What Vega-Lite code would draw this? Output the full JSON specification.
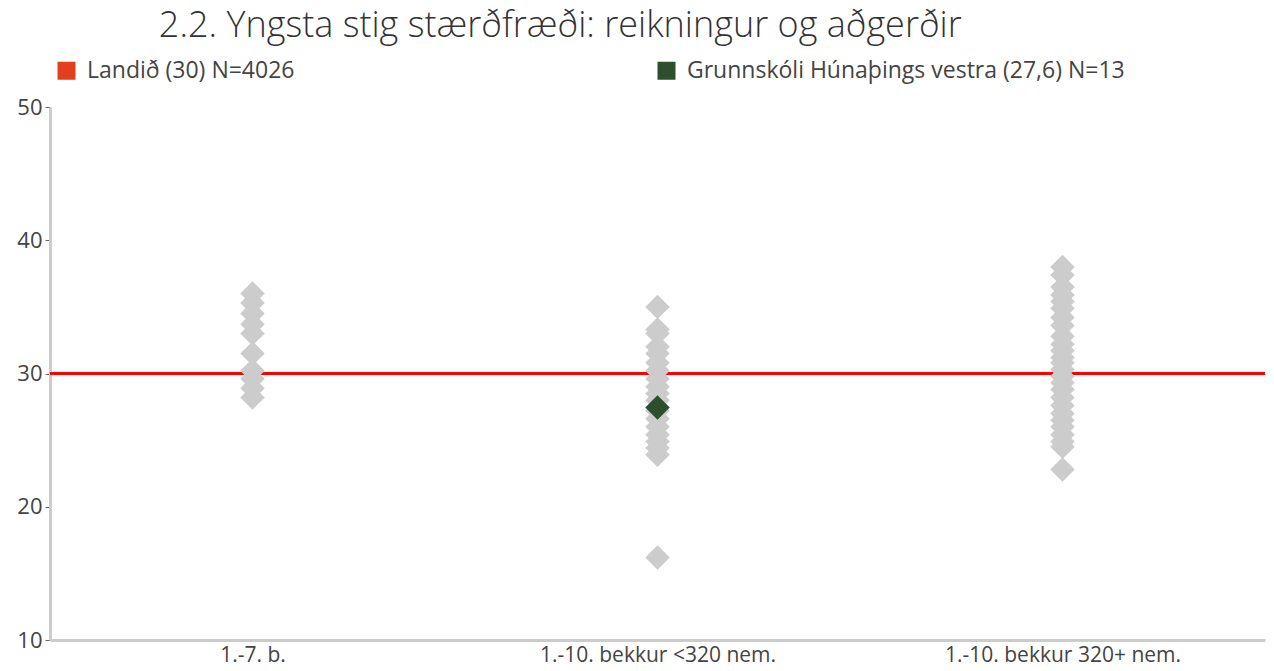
{
  "$schema": "https://vega.github.io/schema/vega-lite/v6.json",
  "autosize": "none",
  "width": 1215,
  "height": 533,
  "padding": {"left": 50, "top": 107, "right": 9, "bottom": 31},
  "background": "white",
  "config": {"view": {"stroke": null}, "font": "Open Sans"},
  "title": {
    "text": "2.2. Yngsta stig stærðfræði: reikningur og aðgerðir",
    "anchor": "start",
    "dx": 142,
    "fontSize": 36,
    "fontWeight": 300,
    "font": "Open Sans",
    "color": "#333333",
    "offset": 14
  },
  "datasets": {
    "pts": [
      {"group": "1.-7. b.", "value": 36.0, "series": "annað"},
      {"group": "1.-7. b.", "value": 35.3, "series": "annað"},
      {"group": "1.-7. b.", "value": 34.5, "series": "annað"},
      {"group": "1.-7. b.", "value": 33.7, "series": "annað"},
      {"group": "1.-7. b.", "value": 33.0, "series": "annað"},
      {"group": "1.-7. b.", "value": 31.5, "series": "annað"},
      {"group": "1.-7. b.", "value": 30.2, "series": "annað"},
      {"group": "1.-7. b.", "value": 29.6, "series": "annað"},
      {"group": "1.-7. b.", "value": 28.9, "series": "annað"},
      {"group": "1.-7. b.", "value": 28.2, "series": "annað"},
      {"group": "1.-10. bekkur <320 nem.", "value": 35.0, "series": "annað"},
      {"group": "1.-10. bekkur <320 nem.", "value": 33.3, "series": "annað"},
      {"group": "1.-10. bekkur <320 nem.", "value": 33.0, "series": "annað"},
      {"group": "1.-10. bekkur <320 nem.", "value": 32.0, "series": "annað"},
      {"group": "1.-10. bekkur <320 nem.", "value": 31.5, "series": "annað"},
      {"group": "1.-10. bekkur <320 nem.", "value": 30.8, "series": "annað"},
      {"group": "1.-10. bekkur <320 nem.", "value": 30.2, "series": "annað"},
      {"group": "1.-10. bekkur <320 nem.", "value": 29.6, "series": "annað"},
      {"group": "1.-10. bekkur <320 nem.", "value": 29.0, "series": "annað"},
      {"group": "1.-10. bekkur <320 nem.", "value": 28.5, "series": "annað"},
      {"group": "1.-10. bekkur <320 nem.", "value": 28.0, "series": "annað"},
      {"group": "1.-10. bekkur <320 nem.", "value": 27.2, "series": "annað"},
      {"group": "1.-10. bekkur <320 nem.", "value": 26.6, "series": "annað"},
      {"group": "1.-10. bekkur <320 nem.", "value": 26.0, "series": "annað"},
      {"group": "1.-10. bekkur <320 nem.", "value": 25.4, "series": "annað"},
      {"group": "1.-10. bekkur <320 nem.", "value": 24.9, "series": "annað"},
      {"group": "1.-10. bekkur <320 nem.", "value": 24.4, "series": "annað"},
      {"group": "1.-10. bekkur <320 nem.", "value": 23.9, "series": "annað"},
      {"group": "1.-10. bekkur <320 nem.", "value": 16.2, "series": "annað"},
      {"group": "1.-10. bekkur 320+ nem.", "value": 38.0, "series": "annað"},
      {"group": "1.-10. bekkur 320+ nem.", "value": 37.4, "series": "annað"},
      {"group": "1.-10. bekkur 320+ nem.", "value": 36.5, "series": "annað"},
      {"group": "1.-10. bekkur 320+ nem.", "value": 35.9, "series": "annað"},
      {"group": "1.-10. bekkur 320+ nem.", "value": 35.4, "series": "annað"},
      {"group": "1.-10. bekkur 320+ nem.", "value": 34.9, "series": "annað"},
      {"group": "1.-10. bekkur 320+ nem.", "value": 34.2, "series": "annað"},
      {"group": "1.-10. bekkur 320+ nem.", "value": 33.6, "series": "annað"},
      {"group": "1.-10. bekkur 320+ nem.", "value": 32.8, "series": "annað"},
      {"group": "1.-10. bekkur 320+ nem.", "value": 32.2, "series": "annað"},
      {"group": "1.-10. bekkur 320+ nem.", "value": 31.7, "series": "annað"},
      {"group": "1.-10. bekkur 320+ nem.", "value": 31.2, "series": "annað"},
      {"group": "1.-10. bekkur 320+ nem.", "value": 30.8, "series": "annað"},
      {"group": "1.-10. bekkur 320+ nem.", "value": 30.3, "series": "annað"},
      {"group": "1.-10. bekkur 320+ nem.", "value": 29.8, "series": "annað"},
      {"group": "1.-10. bekkur 320+ nem.", "value": 29.3, "series": "annað"},
      {"group": "1.-10. bekkur 320+ nem.", "value": 28.8, "series": "annað"},
      {"group": "1.-10. bekkur 320+ nem.", "value": 28.2, "series": "annað"},
      {"group": "1.-10. bekkur 320+ nem.", "value": 27.6, "series": "annað"},
      {"group": "1.-10. bekkur 320+ nem.", "value": 27.0, "series": "annað"},
      {"group": "1.-10. bekkur 320+ nem.", "value": 26.5, "series": "annað"},
      {"group": "1.-10. bekkur 320+ nem.", "value": 26.0, "series": "annað"},
      {"group": "1.-10. bekkur 320+ nem.", "value": 25.4, "series": "annað"},
      {"group": "1.-10. bekkur 320+ nem.", "value": 24.9, "series": "annað"},
      {"group": "1.-10. bekkur 320+ nem.", "value": 24.5, "series": "annað"},
      {"group": "1.-10. bekkur 320+ nem.", "value": 22.8, "series": "annað"},
      {"group": "1.-10. bekkur <320 nem.", "value": 27.45, "series": "Grunnskóli Húnaþings vestra (27,6) N=13"}
    ]
  },
  "layer": [
    {
      "data": {"values": [{"value": 30}]},
      "mark": {"type": "rule", "color": "#ff0000", "strokeWidth": 3},
      "encoding": {"y": {"field": "value", "type": "quantitative"}}
    },
    {
      "data": {"name": "pts"},
      "mark": {"type": "point", "shape": "diamond", "filled": true, "opacity": 1, "size": 600},
      "encoding": {
        "x": {
          "field": "group",
          "type": "nominal",
          "sort": null,
          "scale": {"paddingInner": 0, "paddingOuter": 0},
          "axis": {
            "title": null,
            "labelAngle": 0,
            "labelFontSize": 21,
            "labelColor": "#444444",
            "labelFont": "Open Sans",
            "labelLimit": 400,
            "ticks": false,
            "labelPadding": 4,
            "domainColor": "#cccccc",
            "domainWidth": 3
          }
        },
        "y": {
          "field": "value",
          "type": "quantitative",
          "scale": {"domain": [10, 50], "nice": false, "zero": false},
          "axis": {
            "title": null,
            "values": [10, 20, 30, 40, 50],
            "grid": false,
            "labelFontSize": 22,
            "labelColor": "#444444",
            "labelFont": "Open Sans",
            "tickSize": 5,
            "tickColor": "#666666",
            "tickWidth": 1,
            "labelPadding": 3,
            "domainColor": "#cccccc",
            "domainWidth": 3
          }
        },
        "color": {
          "field": "series",
          "type": "nominal",
          "scale": {
            "domain": ["Landið (30) N=4026", "Grunnskóli Húnaþings vestra (27,6) N=13", "annað"],
            "range": ["#e2401c", "#2e4f2e", "#cccccc"]
          },
          "legend": {
            "title": null,
            "values": ["Landið (30) N=4026", "Grunnskóli Húnaþings vestra (27,6) N=13"],
            "orient": "none",
            "legendX": 5,
            "legendY": -48,
            "direction": "horizontal",
            "columns": 2,
            "columnPadding": 360,
            "symbolType": "square",
            "symbolSize": 324,
            "symbolStrokeWidth": 0,
            "labelFontSize": 23,
            "labelColor": "#444444",
            "labelFont": "Open Sans",
            "labelOffset": 9,
            "labelLimit": 700
          }
        },
        "order": {"field": "series", "sort": "descending"}
      }
    }
  ]
}
